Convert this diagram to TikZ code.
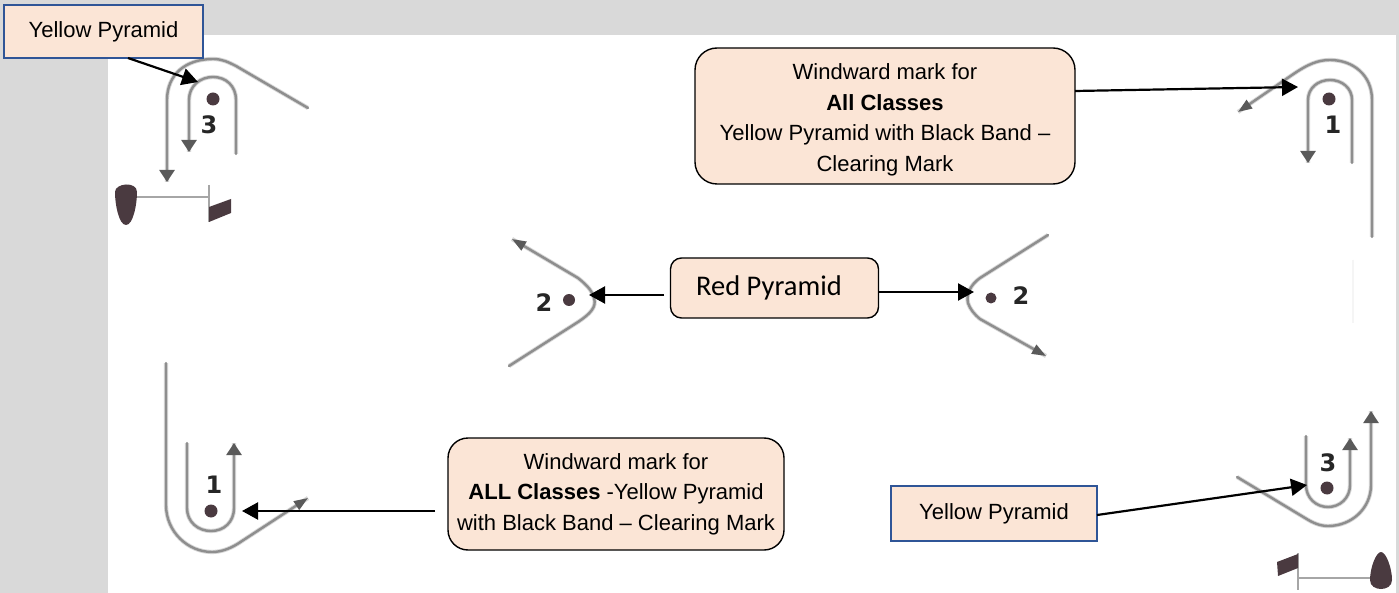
\documentclass[tikz,border=0pt]{standalone}
\usepackage{fontspec}
\setmainfont{Liberation Sans}
\newfontfamily\calibrilike{Carlito}
\newfontfamily\numfont{DejaVu Sans}
\usetikzlibrary{arrows.meta}
\definecolor{bandgray}{HTML}{D9D9D9}
\definecolor{boxfill}{HTML}{FBE5D6}
\definecolor{boxblue}{HTML}{2F5597}
\definecolor{trackgray}{HTML}{8E8E8E}
\definecolor{tipgray}{HTML}{5A5A5A}
\definecolor{markdark}{HTML}{4A3A40}
\tikzset{
  x=1pt,y=-1pt,
  roundbox/.style={draw=black,fill=boxfill,line width=1.4pt,rounded corners=#1,inner sep=0pt,align=center,font=\fontsize{22}{30.5}\selectfont},
  squarebox/.style={draw=boxblue,fill=boxfill,line width=1.6pt,inner sep=0pt,align=center,font=\fontsize{22}{26}\selectfont},
  conn/.style={draw=black,line width=2.2pt,-{Triangle[length=16pt,width=17pt]}},
  track/.style={draw=trackgray,line width=2.4pt,line cap=round,preaction={draw=trackgray!35,line width=4.2pt,-}},
  trackarrow/.style={track,-{Triangle[length=12pt,width=15pt,color=tipgray,fill=tipgray]}},
  diagarrow/.style={track,-{Triangle[length=14pt,width=10pt,color=tipgray,fill=tipgray]}},
  buoy/.style={circle,fill=markdark,draw=none,minimum size=13pt,inner sep=0pt},
  num/.style={font=\numfont\bfseries\fontsize{24}{24}\selectfont,text=black!85,inner sep=0pt},
  boat/.style={fill=markdark,draw=none},
  fine/.style={draw=gray!70,line width=1.3pt}
}
\begin{document}
\begin{tikzpicture}
\useasboundingbox (0,0) rectangle (1399,593);
\fill[white] (0,0) rectangle (1399,593);
\fill[bandgray] (0,0) rectangle (1399,35);
\fill[bandgray] (0,0) rectangle (108,593);
\fill[bandgray] (1396,0) rectangle (1399,593);

% top-left rounding
\draw[trackarrow] (308,108) -- (236,66) .. controls (228,62) and (222,59) .. (213,59)
  .. controls (185,59) and (167,75) .. (167,100) -- (167,182);
\draw[trackarrow] (236,154) -- (236,100) .. controls (236,86) and (226,77) .. (213,77)
  .. controls (200,77) and (189,86) .. (189,100) -- (189,152);
\node[buoy] (d3a) at (213,99) {};
\node[num] (n3a) at (209,125) {3};
\fill[boat] (115,192) .. controls (115,183) and (137,181) .. (137,192)
  .. controls (137,205) and (133,225) .. (126,225) .. controls (119,225) and (115,205) .. (115,192) -- cycle;
\draw[fine] (137,197) -- (209,197);
\draw[fine] (209,185) -- (209,222);
\fill[boat] (209,207) -- (231,199) -- (231,213) -- (209,222) -- cycle;

% top-right rounding
\draw[diagarrow] (1372,237) -- (1372,100) .. controls (1372,75) and (1353,60) .. (1330,60)
  .. controls (1318,60) and (1308,64) .. (1292,75) -- (1238,112);
\draw[trackarrow] (1352,163) -- (1352,100) .. controls (1352,88) and (1342,80) .. (1330,80)
  .. controls (1318,80) and (1308,88) .. (1308,100) -- (1308,163);
\node[buoy] (d1a) at (1329,99) {};
\node[num] (n1a) at (1333,125) {1};
\draw[gray!8,line width=1.5pt] (1353,260) -- (1353,323);

% bottom-left rounding
\draw[diagarrow] (166,363) -- (166,505) .. controls (166,532) and (188,552) .. (212,552)
  .. controls (222,552) and (232,548) .. (242,541) -- (308,498);
\draw[trackarrow] (187,443) -- (187,508) .. controls (187,522) and (198,531) .. (211,531)
  .. controls (224,531) and (234,522) .. (234,508) -- (234,443);
\node[buoy] (d1b) at (211,511) {};
\node[num] (n1b) at (214,485) {1};

% bottom-right rounding
\draw[trackarrow] (1237,477) -- (1305,518) .. controls (1313,523) and (1320,526) .. (1328,526)
  .. controls (1352,526) and (1371,508) .. (1371,485) -- (1371,411);
\draw[trackarrow] (1306,436) -- (1306,485) .. controls (1306,498) and (1316,507) .. (1328,507)
  .. controls (1340,507) and (1350,498) .. (1350,485) -- (1350,438);
\node[buoy] (d3b) at (1327,488) {};
\node[num] (n3b) at (1328,463) {3};
\fill[boat] (1370,580) .. controls (1370,568) and (1376,552) .. (1381,552)
  .. controls (1386,552) and (1392,568) .. (1392,580) .. controls (1392,592) and (1370,592) .. (1370,580) -- cycle;
\draw[fine] (1298,578) -- (1370,578);
\draw[fine] (1298,553) -- (1298,590);
\fill[boat] (1298,554) -- (1298,568) -- (1278,576) -- (1277,562) -- cycle;

% left gate
\draw[diagarrow] (509,366) -- (578,322) .. controls (590,314) and (597,307) .. (594,298)
  .. controls (592,291) and (588,286) .. (578,278) -- (512,239);
\node[buoy,minimum size=12pt] (d2a) at (569,300) {};
\node[num] (n2a) at (544,303) {2};

% right gate
\draw[diagarrow] (1048,235) -- (980,278) .. controls (970,285) and (966,295) .. (968,303)
  .. controls (970,309) and (974,314) .. (980,319) -- (1046,356);
\node[buoy,minimum size=11pt] (d2b) at (991,298) {};
\node[num] (n2b) at (1021,296) {2};

% labels
\node[squarebox,minimum width=199pt,minimum height=53pt] (yp1) at (103.5,31.5) {Yellow Pyramid};
\node[squarebox,minimum width=206pt,minimum height=55pt] (yp2) at (994,513.5) {Yellow Pyramid};
\node[roundbox=22pt,minimum width=380pt,minimum height=136pt] (wm1) at (885,116)
  {\rule{0pt}{24pt}Windward mark for\\\textbf{All Classes}\\Yellow Pyramid with Black Band --\\Clearing Mark};
\node[roundbox=20pt,minimum width=336pt,minimum height=112pt] (wm2) at (616,494)
  {Windward mark for\\\textbf{ALL Classes} -Yellow Pyramid\\with Black Band -- Clearing Mark};
\node[roundbox=11pt,minimum width=208pt,minimum height=60pt,font=\calibrilike\fontsize{28.5}{32}\selectfont] (rp) at (774.5,288)
  {\hspace*{-11pt}\raisebox{-2pt}{Red Pyramid}};

% connector ends
\coordinate (e1) at (198,82);
\coordinate (s1) at (128,58);
\coordinate (e2) at (1298,87);
\coordinate (s2) at (1075,91);
\coordinate (e3) at (242,511);
\coordinate (s3) at (435,511);
\coordinate (e4) at (1307,485);
\coordinate (s4) at (1097,515);
\coordinate (e5) at (589,295);
\coordinate (s5) at (664,295);
\coordinate (e6) at (974,292);
\coordinate (s6) at (878,292);

\draw[conn] (s1) -- (e1);
\draw[conn] (s2) -- (e2);
\draw[conn] (s3) -- (e3);
\draw[conn] (s4) -- (e4);
\draw[conn] (s5) -- (e5);
\draw[conn] (s6) -- (e6);
\end{tikzpicture}
\end{document}
